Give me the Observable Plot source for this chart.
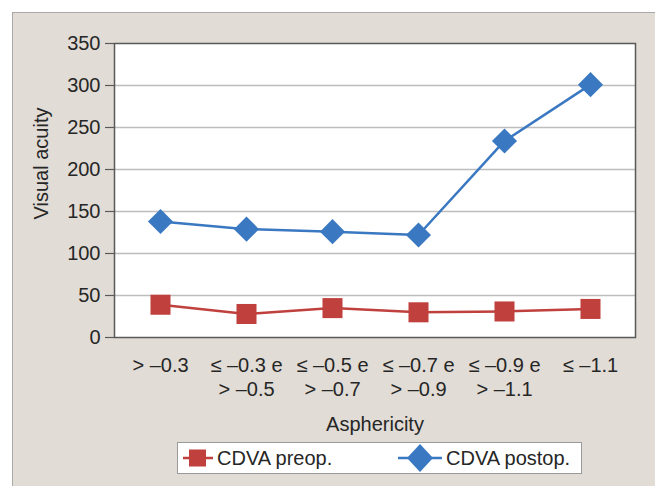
<!DOCTYPE html>
<html><head><meta charset="utf-8">
<script src="https://cdn.jsdelivr.net/npm/d3@7"></script>
<script src="https://cdn.jsdelivr.net/npm/@observablehq/plot@0.6"></script>
<style>
html,body{margin:0;padding:0;background:#fff;width:655px;height:486px;overflow:hidden;font-family:"Liberation Sans",Arial,sans-serif;color:#262626;}
#panel{position:absolute;left:12px;top:12px;width:700px;height:520px;background:#e1dcd5;border-left:1.5px solid #a9a9a9;border-top:1.5px solid #a9a9a9;}
#chart{position:absolute;left:0;top:0;}
#legend{position:absolute;left:177px;top:442px;width:403px;height:30px;background:#fff;border:1px solid #9a9a9a;}
.item{position:absolute;top:0;height:30px;display:flex;align-items:center;font-size:20px;white-space:nowrap;}
.item svg{display:block;margin-right:4px;}
</style>
</head><body>
<div id="panel"></div>
<div id="chart"></div>
<div id="legend"></div>
<script>
const categories = ["> –0.3", "≤ –0.3 e\n> –0.5", "≤ –0.5 e\n> –0.7", "≤ –0.7 e\n> –0.9", "≤ –0.9 e\n> –1.1", "≤ –1.1"];
const seriesNames = ["CDVA preop.", "CDVA postop."];
const preop = [39, 28, 35, 30, 31, 34];
const postop = [138, 129, 126, 122, 234, 301];
const yTicks = [0, 50, 100, 150, 200, 250, 300, 350];
const xLabel = "Asphericity";
const yLabel = "Visual acuity";
const colors = ["#c0403d", "#3a78c1"];

const rows = categories.flatMap((c, i) => [
  {cat: c, series: seriesNames[0], value: preop[i]},
  {cat: c, series: seriesNames[1], value: postop[i]}
]);

const chart = Plot.plot({
  width: 655,
  height: 440,
  marginLeft: 114,
  marginRight: 20,
  marginTop: 43,
  marginBottom: 103,
  style: {background: "transparent", fontFamily: "'Liberation Sans', Arial, sans-serif", fontSize: "20px", color: "#262626", overflow: "visible"},
  x: {type: "point", domain: categories, padding: 0.5},
  y: {domain: [0, 350]},
  color: {domain: seriesNames, range: colors},
  symbol: {domain: seriesNames, range: ["square", "diamond2"]},
  marks: [
    Plot.frame({fill: "white"}),
    Plot.gridY({ticks: yTicks.filter(d => d > 0 && d < 350), stroke: "#bdbdbd", strokeOpacity: 1, strokeWidth: 1.5}),
    Plot.axisY({ticks: yTicks, tickSize: 9, tickPadding: 5, label: null, stroke: "#595959", strokeWidth: 1.2, fontSize: 20}),
    Plot.axisX({tickSize: 0, tickPadding: 17, label: xLabel, labelAnchor: "center", labelArrow: "none", labelOffset: 93, lineHeight: 1.2, fontSize: 20}),
    Plot.lineY(rows, {x: "cat", y: "value", stroke: "series", strokeWidth: 2.5}),
    Plot.dot(rows, {x: "cat", y: "value", fill: "series", symbol: "series", r: 11.3}),
    Plot.frame({stroke: "#595959", strokeWidth: 1.5}),
    Plot.text([yLabel], {frameAnchor: "left", textAnchor: "middle", rotate: -90, dx: -73, dy: -27, fontSize: 20})
  ]
});
document.getElementById("chart").appendChild(chart);

// legend
const legend = document.getElementById("legend");
const sym = [
  `<svg width="30" height="30"><line x1="0" y1="15" x2="30" y2="15" stroke="${colors[0]}" stroke-width="2.5"/><rect x="6" y="6.5" width="17" height="17" fill="${colors[0]}"/></svg>`,
  `<svg width="44" height="30"><line x1="0" y1="15" x2="44" y2="15" stroke="${colors[1]}" stroke-width="2.5"/><path d="M22,1L35,15L22,29L9,15Z" fill="${colors[1]}"/></svg>`
];
const lefts = [5, 220];
seriesNames.forEach((name, i) => {
  const d = document.createElement("div");
  d.className = "item";
  d.style.left = lefts[i] + "px";
  d.innerHTML = sym[i] + `<span>${name}</span>`;
  legend.appendChild(d);
});
</script>
</body></html>
